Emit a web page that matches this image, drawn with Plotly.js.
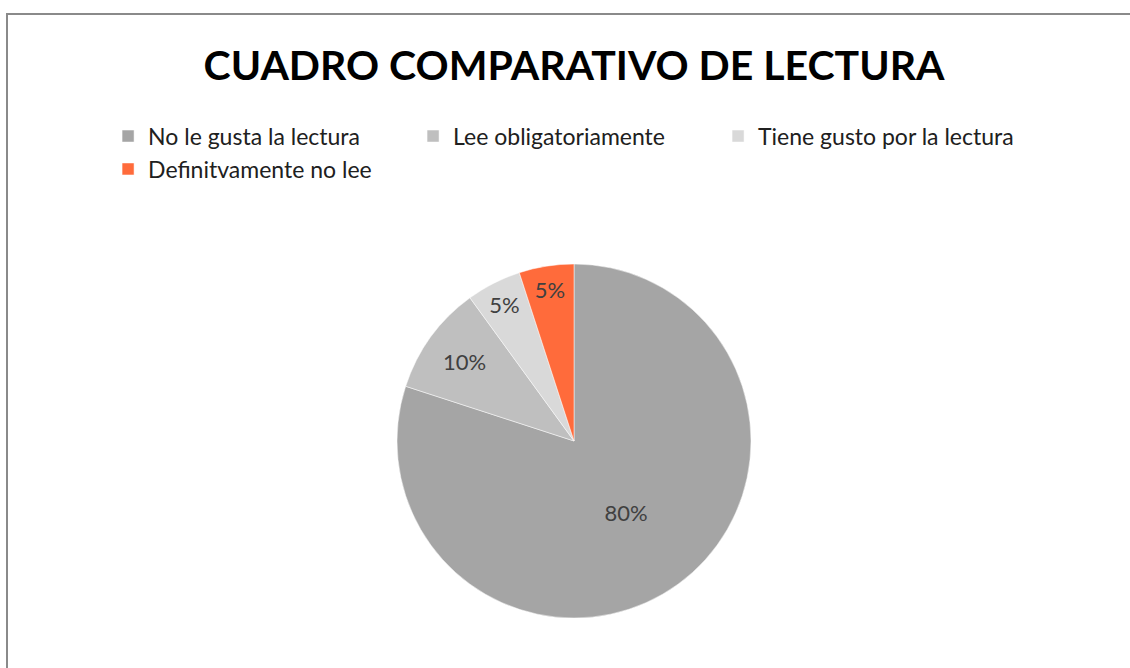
<!DOCTYPE html>
<html>
<head>
<meta charset="utf-8">
<script src="https://cdn.plot.ly/plotly-3.0.1.min.js"></script>
<style>
  html, body { margin: 0; padding: 0; width: 1130px; height: 668px; overflow: hidden; background: #fff; }
  #frame { position: absolute; left: 6px; top: 13px; width: 1200px; height: 800px; border: 2px solid #8a8a8a; box-sizing: border-box; }
  #chart { position: absolute; left: 0; top: 0; width: 1130px; height: 668px; }
</style>
</head>
<body>
<div id="frame"></div>
<div id="chart"></div>
<script>
const chartTitle = "CUADRO COMPARATIVO DE LECTURA";
const categories = ["No le gusta la lectura", "Lee obligatoriamente", "Tiene gusto por la lectura", "Definitvamente no lee"];
const percentages = [80, 10, 5, 5];
const sliceColors = ["#A5A5A5", "#BFBFBF", "#D9D9D9", "#FF6B3B"];

const FONT = "Lato, 'Open Sans', sans-serif";

const trace = {
  type: "pie",
  labels: categories,
  values: percentages,
  sort: false,
  direction: "clockwise",
  rotation: 0,
  marker: { colors: sliceColors, line: { color: "#ffffff", width: 0.5 } },
  textinfo: "percent",
  texttemplate: "%{value}%",
  textposition: "inside",
  insidetextorientation: "horizontal",
  textfont: { family: FONT, size: 22, color: "#404040" },
  hoverinfo: "label+percent"
};

const layout = {
  width: 1130,
  height: 668,
  margin: { l: 18, r: 0, t: 264, b: 50 },
  paper_bgcolor: "rgba(0,0,0,0)",
  plot_bgcolor: "rgba(0,0,0,0)",
  title: {
    text: "<b>" + chartTitle + "</b>",
    font: { family: FONT, size: 41, color: "#000000" },
    x: 0.508, xanchor: "center",
    y: 0.902, yanchor: "middle",
    yref: "container", xref: "container"
  },
  showlegend: true,
  legend: {
    orientation: "h",
    x: 0.081, xanchor: "left",
    y: 1.422, yanchor: "top",
    font: { family: FONT, size: 23, color: "#202020" },
    entrywidth: 260,
    entrywidthmode: "pixels",
    traceorder: "normal"
  },
  uniformtext: { minsize: 22, mode: "show" }
};

Plotly.newPlot("chart", [trace], layout, { displayModeBar: false, staticPlot: true });
</script>
</body>
</html>
